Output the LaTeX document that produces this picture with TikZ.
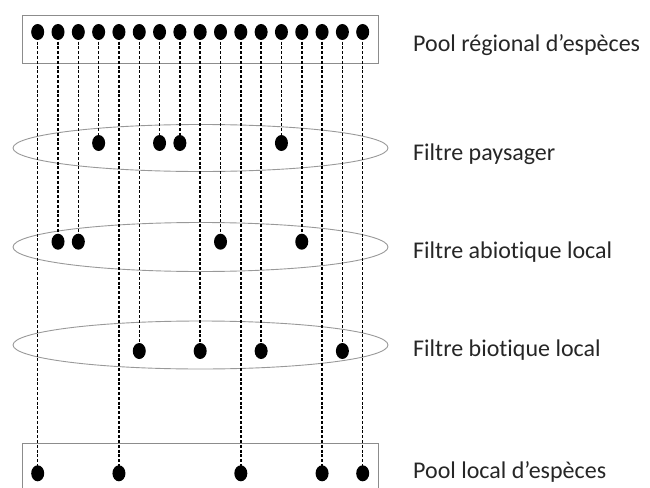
\documentclass[tikz,border=0pt]{standalone}
\usepackage{fontspec}
\setmainfont{Carlito}[Ligatures={NoCommon}]
\usetikzlibrary{shapes.geometric}
\begin{document}
\begin{tikzpicture}[x=1pt,y=-1pt,
  dot/.style={ellipse,fill=black,inner sep=0pt,minimum width=13pt,minimum height=16pt},
  filtre/.style={ellipse,draw=black!40,line width=0.9pt,minimum width=375pt,minimum height=47pt,inner sep=0pt},
  poolbox/.style={draw=black!45,line width=0.9pt},
  link/.style={black,line width=1.5pt,dash pattern=on 3pt off 1.8pt},
  lab/.style={anchor=base west,font=\fontsize{24}{28}\selectfont,text=black!85,inner sep=0pt}]
\useasboundingbox (0,0) rectangle (650,487);
% pools and filters
\node[poolbox,rectangle,minimum width=356pt,minimum height=48pt,inner sep=0pt] (regbox) at (200,39) {};
\draw[poolbox] (22,500) -- (22,443.3) -- (378.3,443.3) -- (378.3,500);
\coordinate (locbox) at (200,443.3);
\node[filtre] (fp) at (200.5,148) {};
\node[filtre,minimum height=49pt] (fa) at (200.5,247) {};
\node[filtre,minimum height=48pt] (fb) at (200.5,345) {};
% species
\foreach \i/\ey in {1/473.3,2/241.7,3/241.7,4/143,5/473.3,6/351,7/143,8/143,9/351,10/241.7,11/473.3,12/351,13/143,14/241.7,15/473.3,16/351,17/473.3}{
  \pgfmathsetmacro{\xx}{37.7+(\i-1)*20.3125}
  \node[dot] (t\i) at (\xx,32) {};
  \node[dot] (e\i) at (\xx,\ey) {};
  \draw[link] (t\i.center) -- (e\i.center);
}
% labels
\node[lab] (l1) at (413,51.7) {Pool régional d’espèces};
\node[lab] (l2) at (413,160.7) {Filtre paysager};
\node[lab] (l3) at (413,258.3) {Filtre abiotique local};
\node[lab] (l4) at (413,356.7) {Filtre biotique local};
\node[lab] (l5) at (413,478.3) {Pool local d’espèces};
\end{tikzpicture}
\end{document}
